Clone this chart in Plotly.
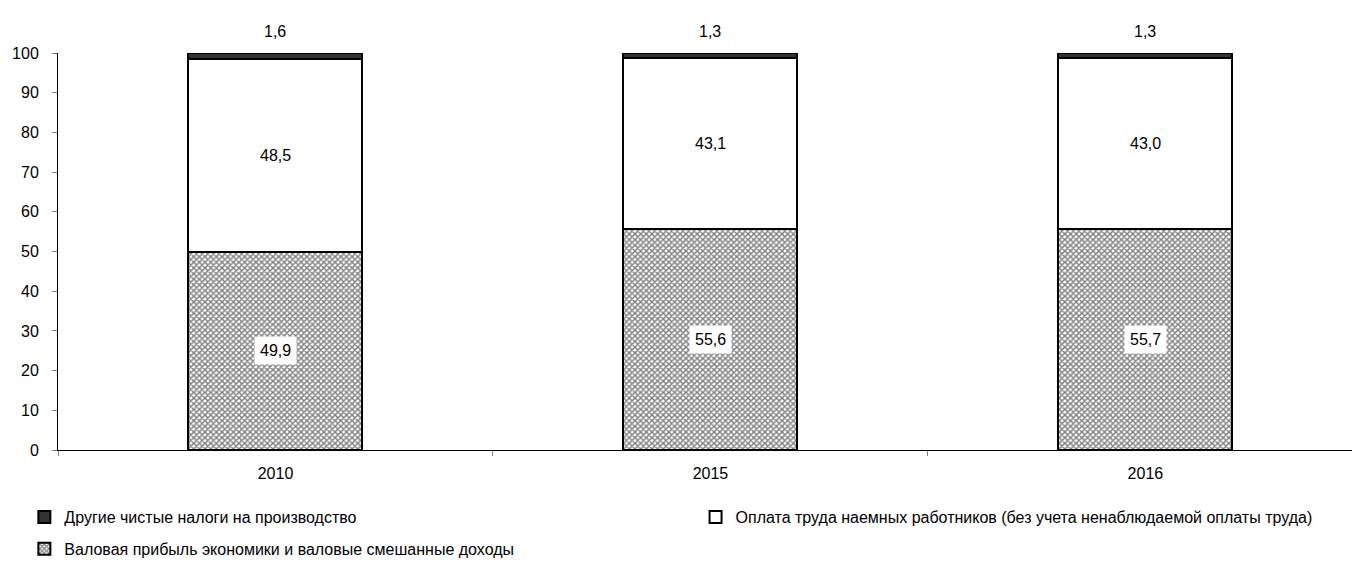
import plotly.graph_objects as go

years = ["2010", "2015", "2016"]
profit = [49.9, 55.6, 55.7]
wages = [48.5, 43.1, 43.0]
taxes = [1.6, 1.3, 1.3]
name_taxes = "Другие чистые налоги на производство"
name_wages = "Оплата труда наемных работников (без учета ненаблюдаемой оплаты труда)"
name_profit = "Валовая прибыль экономики и валовые смешанные доходы"

def fmt(v):
    return f"{v:.1f}".replace(".", ",")

FONT = "Liberation Sans, Arial, sans-serif"

fig = go.Figure()
fig.add_trace(go.Bar(
    x=years, y=profit, name=name_profit, legendrank=3, legend="legend", legendgroup="b",
    marker=dict(color="white", line=dict(color="black", width=2),
                pattern=dict(shape="x", fgcolor="black", bgcolor="white", size=4, solidity=0.6)),
    width=0.4))
fig.add_trace(go.Bar(
    x=years, y=wages, name=name_wages, legend="legend2",
    marker=dict(color="white", line=dict(color="black", width=2)),
    width=0.4))
fig.add_trace(go.Bar(
    x=years, y=taxes, name=name_taxes, legendrank=1, legend="legend", legendgroup="a",
    marker=dict(color="#333333", line=dict(color="black", width=2)),
    width=0.4))

for i in range(len(years)):
    fig.add_annotation(x=i, y=profit[i] / 2, text=fmt(profit[i]), showarrow=False,
                       bgcolor="white", borderpad=5, font=dict(size=16, color="black", family=FONT))
    fig.add_annotation(x=i, y=profit[i] + wages[i] / 2, text=fmt(wages[i]), showarrow=False,
                       font=dict(size=16, color="black", family=FONT))
    fig.add_annotation(x=i, y=profit[i] + wages[i] + taxes[i], text=fmt(taxes[i]), showarrow=False,
                       yshift=22, font=dict(size=16, color="black", family=FONT))

fig.update_layout(
    barmode="stack",
    width=1354, height=567,
    margin=dict(l=58, r=2, t=53, b=117),
    plot_bgcolor="white", paper_bgcolor="white",
    font=dict(family=FONT, size=16, color="black"),
    showlegend=True,
    legend=dict(orientation="v", x=-0.026, y=0.1182, yref="container", xanchor="left", yanchor="top",
                traceorder="grouped", tracegroupgap=8, font=dict(size=16)),
    legend2=dict(orientation="v", x=0.4927, y=0.1182, yref="container", xanchor="left", yanchor="top",
                 font=dict(size=16)),
    xaxis=dict(type="category", range=[-0.5, 2.475], showline=True, linecolor="black", linewidth=1,
               ticks="outside", tickson="boundaries", ticklen=5, tickcolor="gray",
               ticklabelstandoff=9, showgrid=False, zeroline=False),
    yaxis=dict(range=[0, 100], dtick=10, showline=True, linecolor="black", linewidth=1,
               ticks="outside", ticklen=5, tickcolor="gray", ticklabelstandoff=10,
               showgrid=False, zeroline=False),
)

fig.write_html("out.html", config={"displayModeBar": False},
               post_script="document.body.style.margin='0';")
